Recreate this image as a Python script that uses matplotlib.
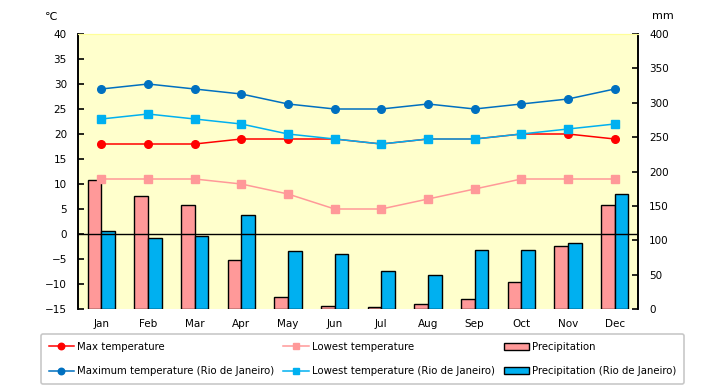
import matplotlib
matplotlib.use("Agg")
import matplotlib.pyplot as plt
import numpy as np

plt.rcParams['font.family'] = ['DejaVu Sans']

MONTHS = ["Jan", "Feb", "Mar", "Apr", "May", "Jun",
          "Jul", "Aug", "Sep", "Oct", "Nov", "Dec"]

# temperatures (deg C)
maxTemp = [18, 18, 18, 19, 19, 19, 18, 19, 19, 20, 20, 19]
lowTemp = [11, 11, 11, 10, 8, 5, 5, 7, 9, 11, 11, 11]
rioMaxTemp = [29, 30, 29, 28, 26, 25, 25, 26, 25, 26, 27, 29]
rioLowTemp = [23, 24, 23, 22, 20, 19, 18, 19, 19, 20, 21, 22]

# precipitation (mm)
precip = [187, 164, 151, 71, 18, 5, 3, 7, 14, 39, 91, 151]
rioPrecip = [113, 104, 106, 137, 85, 80, 55, 50, 86, 86, 96, 168]

RED = "#FF0000"
PINK = "#FF9999"
DARKBLUE = "#0070C0"
LIGHTBLUE = "#00B0F0"

fig = plt.figure(figsize=(7.2, 3.85), dpi=100)
# bars live on the base axes (mm scale shown on the right),
# lines on the twin so they are drawn above the bars
axBar = fig.add_axes([78 / 720, 1 - 309 / 385, 560 / 720, 275 / 385])
axLine = axBar.twinx()

x = np.arange(len(MONTHS))
barWidth = 0.29
axBar.bar(x - barWidth / 2, precip, width=barWidth, color=PINK,
          edgecolor="black", linewidth=1.0, label="Precipitation")
axBar.bar(x + barWidth / 2, rioPrecip, width=barWidth, color=LIGHTBLUE,
          edgecolor="black", linewidth=1.0,
          label="Precipitation (Rio de Janeiro)")
axBar.set_facecolor("#FFFFCC")
axBar.set_ylim(0, 400)
axBar.set_yticks(range(0, 401, 50))
axBar.yaxis.tick_right()
axBar.set_xlim(-0.5, 11.5)
axBar.set_xticks(x)
axBar.set_xticklabels(MONTHS)

axLine.axhline(0, color="black", linewidth=1.0, zorder=1)
axLine.plot(x, rioMaxTemp, color=DARKBLUE, marker="o", markersize=5.5,
            linewidth=1.1, label="Maximum temperature (Rio de Janeiro)")
axLine.plot(x, maxTemp, color=RED, marker="o", markersize=5.5,
            linewidth=1.1, label="Max temperature")
axLine.plot(x, rioLowTemp, color=LIGHTBLUE, marker="s", markersize=5.6,
            linewidth=1.1, label="Lowest temperature (Rio de Janeiro)")
axLine.plot(x, lowTemp, color=PINK, marker="s", markersize=5.6,
            linewidth=1.1, label="Lowest temperature")
axLine.set_ylim(-15, 40)
axLine.set_yticks(range(-15, 41, 5))
axLine.yaxis.tick_left()

for ax in (axBar, axLine):
    ax.spines["bottom"].set_visible(False)
    ax.spines["top"].set_color("#FFFF99")
    ax.spines["left"].set_linewidth(1.2)
    ax.spines["right"].set_linewidth(1.2)
    ax.tick_params(axis="y", direction="in", length=4, width=1.2,
                   labelsize=7.5, pad=8)
    ax.tick_params(axis="x", length=0, labelsize=7.5, pad=7)

fig.text(51 / 720, 1 - 17 / 385, "℃", fontsize=8, ha="center", va="center")
fig.text(663 / 720, 1 - 16 / 385, "mm", fontsize=8, ha="center", va="center")

# legend, filled column by column
lineHandles, lineLabels = axLine.get_legend_handles_labels()
barHandles, barLabels = axBar.get_legend_handles_labels()
h = {lbl: hd for hd, lbl in zip(lineHandles + barHandles,
                                 lineLabels + barLabels)}
order = ["Max temperature", "Maximum temperature (Rio de Janeiro)",
         "Lowest temperature", "Lowest temperature (Rio de Janeiro)",
         "Precipitation", "Precipitation (Rio de Janeiro)"]
leg = fig.legend([h[k] for k in order], order, ncol=3,
                 loc="upper left", bbox_to_anchor=(41 / 720, 1 - 334 / 385),
                 bbox_transform=fig.transFigure, fontsize=7.3,
                 frameon=True, fancybox=True, handlelength=2.5,
                 handletextpad=0.3, columnspacing=0.9, labelspacing=1.45,
                 markerscale=0.85, borderpad=0.75, borderaxespad=0)
leg.get_frame().set_edgecolor("#BBBBBB")
leg.get_frame().set_linewidth(1.2)

fig.savefig("out.png", dpi=100)
